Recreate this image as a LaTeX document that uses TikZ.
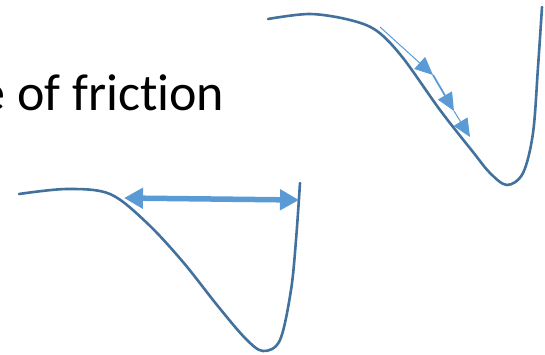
\documentclass[tikz,border=0pt]{standalone}
\usepackage{fontspec}
\setmainfont[Ligatures=NoCommon]{Carlito}
\usetikzlibrary{arrows.meta}
\definecolor{curveblue}{HTML}{41719C}
\definecolor{arrowblue}{HTML}{5B9BD5}
\tikzset{
  well/.style={draw=curveblue, line width=2.6pt, line cap=round},
  bigarrow/.style={draw=arrowblue, line width=5.5pt, {Triangle[length=19pt,width=20pt]}-{Triangle[length=19pt,width=20pt]}},
  smallarrow/.style={draw=arrowblue, line width=1pt, -{Triangle[length=18pt,width=16pt]}},
}
\begin{document}
\begin{tikzpicture}[x=1pt,y=-1pt]
\useasboundingbox (0,0) rectangle (545,354);
\clip (0,0) rectangle (545,354);
\node[anchor=base east, inner sep=0pt, font=\fontsize{52}{60}\selectfont] (title) at (224.5,110) {e of friction};
% lower well
\draw[well] plot[smooth, tension=0.55] coordinates {(19,194) (67,189) (110,194) (147,223) (183,262) (217,305) (245,338) (263,351) (280,340) (291,290) (296,240) (300,183)};
% upper well
\draw[well] plot[smooth, tension=0.55] coordinates {(268,19) (310,14) (350,20) (377,31) (403,58) (440,110) (473,152) (490,173) (507,185) (523,173) (533,133) (538,67) (542,7)};
% double arrow
\coordinate (dl) at (124,198);
\coordinate (dr) at (299,200);
\draw[bigarrow] (dl) -- (dr);
% small arrows
\coordinate (a0) at (380,27);
\coordinate (a1) at (433,75);
\coordinate (a2) at (454,111);
\coordinate (a3) at (470,137);
\draw[smallarrow] (a0) -- (a1);
\draw[smallarrow, line width=1.8pt] (a1) -- (a2);
\draw[smallarrow] (a2) -- (a3);
\end{tikzpicture}
\end{document}
